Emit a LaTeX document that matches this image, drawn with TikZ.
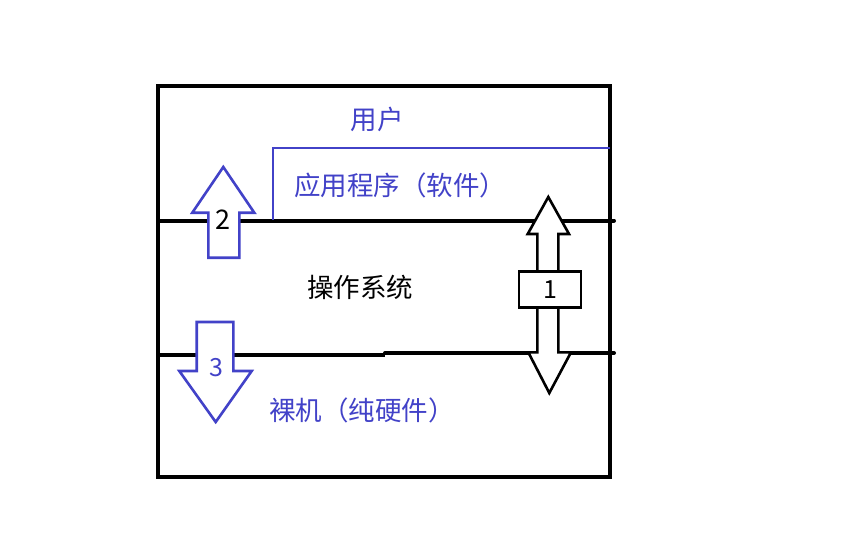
\documentclass[tikz,border=0pt]{standalone}
\usepackage{fontspec}
\setmainfont{Noto Sans CJK SC}
\definecolor{myblue}{RGB}{66,66,200}
\begin{document}
\begin{tikzpicture}[x=1pt,y=-1pt,
  blk/.style={line width=4pt,black},
  arr/.style={line width=2.6pt,line join=miter,fill=white},
  lbl/.style={inner sep=0pt,font=\fontsize{26.5}{30}\selectfont},
  num/.style={inner sep=0pt,font=\fontsize{25}{28}\selectfont}]
\useasboundingbox[fill=white] (0,0) rectangle (864,540);
% outer frame
\draw[blk] (158,86) rectangle (610,477);
% layer lines
\draw[blk,line cap=round] (158,220.5) -- (614,220.5);
\draw[blk] (158,354.5) -- (385,354.5);
\draw[blk,line cap=round] (385,353) -- (614,353);
% application bracket
\draw[draw=myblue,line width=2.8pt] (273,220) -- (273,148) -- (610,148);
% texts
\node[lbl,text=myblue] (user) at (377,119) {用户};
\node[lbl,text=myblue] (app) at (400,185) {应用程序（软件）};
\node[lbl] (os) at (360,287) {操作系统};
\node[lbl,text=myblue] (hw) at (362,410) {裸机（纯硬件）};
% arrow 2 (up)
\draw[arr,draw=myblue] (208.3,257.7) -- (208.3,212.7) -- (192.3,212.7) -- (223.3,167) -- (254.3,212.7) -- (239.3,212.7) -- (239.3,257.7) -- cycle;
\node[num,font=\fontsize{27}{30}\selectfont] (n2) at (222.5,220) {2};
% arrow 3 (down)
\draw[arr,draw=myblue] (196.7,322) -- (233.3,322) -- (233.3,371) -- (251.7,371) -- (215.7,422) -- (179.3,371) -- (196.7,371) -- cycle;
\node[num,text=myblue] (n3) at (216,368) {3};
% arrow 1 (double)
\draw[arr,draw=black] (537.3,272) -- (537.3,234) -- (527.7,234) -- (548.3,197) -- (569,234) -- (558.3,234) -- (558.3,272);
\draw[arr,draw=black] (537.3,307) -- (537.3,352.3) -- (528.3,352.3) -- (549.3,393) -- (571,352.3) -- (558.3,352.3) -- (558.3,307);
\node[num,draw,line width=2.6pt,fill=white,minimum width=62pt,minimum height=36pt] (n1) at (550,289.5) {1};
\end{tikzpicture}
\end{document}
